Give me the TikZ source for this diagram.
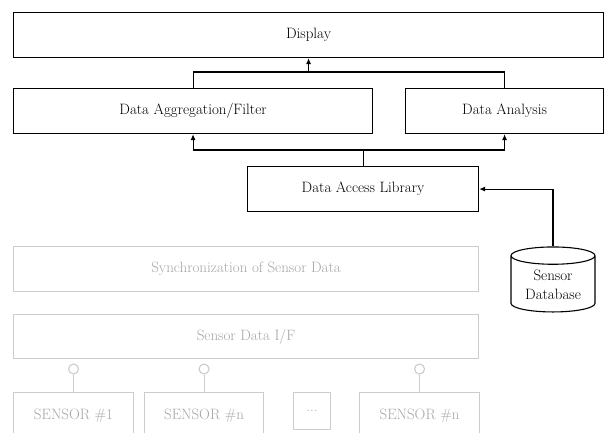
\documentclass[tikz,border=0pt]{standalone}
\usepackage{tikz}
\usetikzlibrary{arrows.meta}
\usetikzlibrary{positioning}
\usetikzlibrary{shapes.geometric}
\definecolor{paleline}{RGB}{204,204,204}
\definecolor{paletext}{RGB}{165,165,165}
\tikzstyle{layer}=[draw,line width=1.1pt,rectangle,anchor=north west,inner sep=2pt,font=\fontsize{15}{18}\selectfont]
\tikzstyle{palelayer}=[layer,draw=paleline,text=paletext]

\begin{document}
\begin{tikzpicture}[x=1pt,y=-1pt,line width=1.1pt,>={Latex[length=6pt,width=5pt]}]
\tikzstyle{port}=[draw=paleline,fill=white,circle,minimum size=10pt,inner sep=0pt,line width=1.1pt]
\tikzstyle{store}=[draw,cylinder,shape border rotate=90,aspect=0.3,align=center,
  minimum width=84pt,minimum height=65pt,inner sep=1pt,line width=1.1pt,font=\fontsize{15}{19}\selectfont]
\useasboundingbox (0,0) rectangle (605,433);
\clip (0,0) rectangle (605,433);

% application side
\node [layer,minimum width=590pt,minimum height=45pt] (disp) at (13,12) {Display};
\node [layer,minimum width=359pt,minimum height=45pt] (agg) at (13,88) {Data Aggregation/Filter};
\node [layer,minimum width=198pt,minimum height=45pt] (ana) at (405,88) {Data Analysis};
\node [layer,minimum width=231pt,minimum height=45pt] (acc) at (247,166) {Data Access Library};
\node [store] (db) at (553,285) {Sensor\\Database};

\coordinate (up) at (disp.south |- 0,72);
\coordinate (low) at (acc.north |- 0,150);
\draw (agg.north) |- (up) -| (ana.north);
\draw [->] (up) -- (disp.south);
\draw (acc.north) -- (low);
\draw [->] (low) -| (agg.south);
\draw [->] (low) -| (ana.south);
\draw [->] (db.north) |- (acc.east);

% sensor side (greyed out)
\node [palelayer,minimum width=465pt,minimum height=45pt] (sync) at (13,246) {Synchronization of Sensor Data};
\node [palelayer,minimum width=465pt,minimum height=44pt] (sif) at (13,314) {Sensor Data I/F};
\foreach \nm/\x/\w/\lbl in {s1/13/120/SENSOR \#1, s2/144/119/SENSOR \#n, s3/359/120/SENSOR \#n} {
  \node [palelayer,minimum width=\w pt,minimum height=46pt] (\nm) at (\x,392) {\lbl};
  \node [port] (p\nm) at (\nm.north |- 0,369) {};
  \draw [paleline] (p\nm) -- (\nm.north);
}
\node [palelayer,minimum width=37pt,minimum height=37pt] (more) at (293,392) {...};
\end{tikzpicture}
\end{document}
